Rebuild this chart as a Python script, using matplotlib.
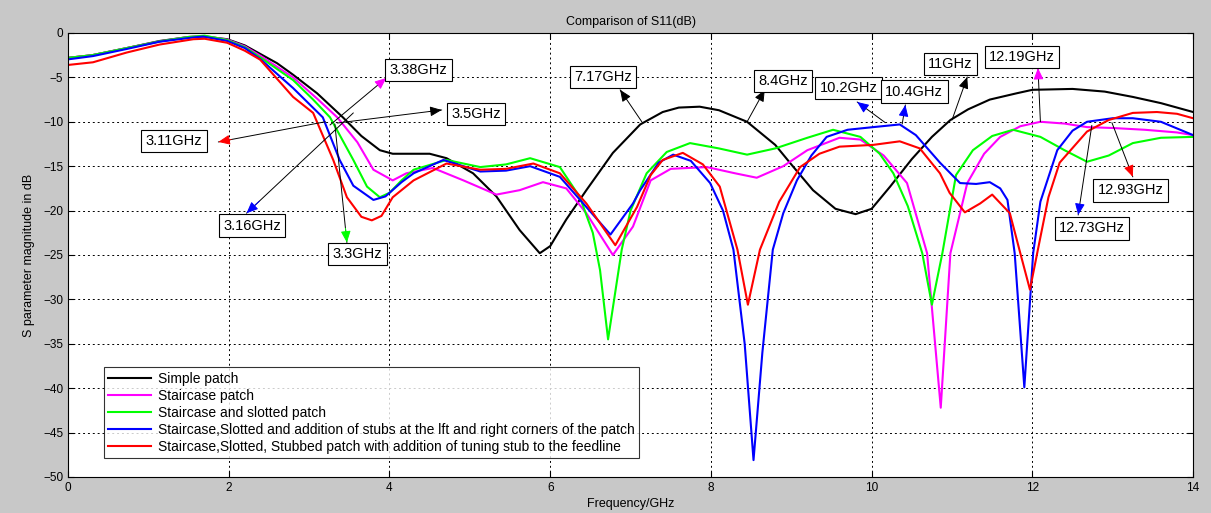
import matplotlib
matplotlib.use("Agg")
import matplotlib.pyplot as plt

plt.rcParams['font.family'] = ['Liberation Sans', 'DejaVu Sans']

# Simple patch
f_simple = [0, 0.3, 0.73, 1.14, 1.5, 1.7, 1.98, 2.2, 2.4, 2.6, 2.8, 3.1, 3.42, 3.65, 3.88,
            4.04, 4.5, 4.71, 5.04, 5.33, 5.62, 5.87, 6.0, 6.2, 6.45, 6.78, 7.12, 7.4, 7.6,
            7.86, 8.1, 8.45, 8.8, 9.0, 9.27, 9.55, 9.8, 10.0, 10.23, 10.5, 10.75, 10.98,
            11.2, 11.47, 11.8, 12.0, 12.5, 12.9, 13.25, 13.6, 14.0]
s_simple = [-2.8, -2.5, -1.7, -0.9, -0.45, -0.4, -0.7, -1.4, -2.4, -3.4, -4.7, -6.8, -9.5,
            -11.6, -13.2, -13.6, -13.6, -14.1, -15.8, -18.4, -22.2, -24.8, -24.0, -21.0,
            -17.7, -13.5, -10.3, -8.9, -8.4, -8.3, -8.7, -10.0, -12.6, -14.8, -17.7, -19.8,
            -20.4, -19.8, -17.3, -14.2, -11.7, -9.8, -8.6, -7.5, -6.8, -6.4, -6.3, -6.6,
            -7.2, -7.9, -8.9]

# Staircase patch
f_stair = [0, 0.3, 0.73, 1.14, 1.5, 1.7, 1.98, 2.2, 2.4, 2.8, 3.1, 3.35, 3.6, 3.8, 4.04,
           4.21, 4.54, 4.92, 5.33, 5.62, 5.91, 6.2, 6.45, 6.78, 7.03, 7.25, 7.5, 7.95, 8.3,
           8.57, 8.9, 9.2, 9.6, 9.86, 10.15, 10.44, 10.69, 10.86, 10.98, 11.19, 11.4,
           11.6, 11.85, 12.1, 12.4, 12.68, 13.0, 13.4, 13.8, 14.0]
s_stair = [-2.8, -2.5, -1.7, -0.95, -0.45, -0.35, -0.75, -1.5, -2.6, -5.0, -7.4, -9.5,
           -12.3, -15.4, -16.6, -15.8, -15.2, -16.6, -18.2, -17.7, -16.8, -17.5, -20.3,
           -25.0, -21.8, -16.6, -15.3, -15.1, -15.8, -16.3, -15.0, -13.2, -11.8, -12.0,
           -13.8, -16.9, -24.8, -42.2, -24.8, -16.9, -13.6, -11.7, -10.5, -10.0, -10.2,
           -10.6, -10.7, -10.9, -11.2, -11.5]

# Staircase and slotted patch
f_slot = [0, 0.3, 0.73, 1.14, 1.5, 1.7, 1.98, 2.2, 2.4, 2.8, 3.05, 3.26, 3.55, 3.72, 3.88,
          4.0, 4.15, 4.3, 4.71, 5.13, 5.45, 5.75, 6.12, 6.37, 6.53, 6.62, 6.72, 6.89, 7.0,
          7.2, 7.45, 7.74, 8.1, 8.45, 8.8, 9.2, 9.52, 9.86, 10.1, 10.27, 10.45, 10.63,
          10.75, 10.88, 11.05, 11.26, 11.5, 11.76, 12.1, 12.4, 12.68, 12.95, 13.25, 13.6,
          14.0]
s_slot = [-2.8, -2.5, -1.7, -0.95, -0.45, -0.3, -0.8, -1.6, -2.8, -5.3, -7.5, -9.5, -14.3,
          -17.3, -18.5, -18.0, -16.6, -15.4, -14.3, -15.1, -14.8, -14.1, -15.1, -18.5,
          -22.5, -26.7, -34.5, -24.4, -20.0, -15.8, -13.4, -12.4, -13.0, -13.7, -13.0,
          -11.8, -10.9, -11.7, -13.6, -15.8, -19.5, -24.8, -30.6, -24.8, -16.0, -13.2,
          -11.6, -10.9, -11.7, -13.2, -14.5, -13.8, -12.4, -11.8, -11.7]

# Staircase, slotted, stubs at corners
f_stub = [0, 0.31, 0.73, 1.14, 1.56, 1.68, 1.98, 2.2, 2.4, 2.8, 3.17, 3.38, 3.55, 3.8,
          3.95, 4.15, 4.3, 4.67, 5.13, 5.45, 5.75, 6.12, 6.45, 6.75, 7.03, 7.12, 7.35,
          7.53, 7.75, 7.99, 8.15, 8.28, 8.42, 8.53, 8.64, 8.77, 8.9, 9.07, 9.25, 9.44,
          9.7, 10.02, 10.35, 10.55, 10.85, 11.1, 11.3, 11.47, 11.6, 11.69, 11.78, 11.9,
          12.01, 12.1, 12.31, 12.5, 12.68, 13.0, 13.25, 13.6, 14.0]
s_stub = [-2.97, -2.6, -1.8, -0.98, -0.5, -0.4, -0.9, -1.7, -3.0, -6.2, -9.5, -14.3, -17.2,
          -18.8, -18.4, -16.8, -15.8, -14.3, -15.6, -15.5, -15.0, -16.2, -19.6, -22.7,
          -19.2, -17.7, -14.6, -13.7, -14.4, -16.9, -20.0, -24.4, -35.0, -48.1, -36.0,
          -24.4, -20.3, -16.6, -13.8, -11.7, -10.9, -10.6, -10.3, -11.5, -14.6, -16.9,
          -17.0, -16.8, -17.5, -18.8, -24.8, -39.9, -24.8, -19.0, -13.2, -11.0, -10.0,
          -9.6, -9.6, -10.0, -11.5]

# Staircase, slotted, stubbed + tuning stub
f_tune = [0, 0.31, 0.73, 1.14, 1.56, 1.7, 1.98, 2.2, 2.39, 2.8, 3.05, 3.3, 3.47, 3.65,
          3.78, 3.9, 4.04, 4.3, 4.71, 5.13, 5.45, 5.79, 6.12, 6.45, 6.81, 7.08, 7.25, 7.4,
          7.65, 7.9, 8.11, 8.33, 8.46, 8.61, 8.85, 9.11, 9.35, 9.6, 10.02, 10.35, 10.6,
          10.85, 10.97, 11.16, 11.35, 11.5, 11.72, 11.85, 11.97, 12.06, 12.2, 12.34, 12.68,
          12.95, 13.25, 13.55, 13.8, 14.0]
s_tune = [-3.6, -3.3, -2.2, -1.3, -0.7, -0.65, -1.1, -2.0, -3.0, -7.2, -9.0, -14.3, -18.5,
          -20.7, -21.1, -20.6, -18.5, -16.6, -14.7, -15.4, -15.3, -14.7, -15.8, -19.2,
          -23.9, -19.6, -16.0, -14.3, -13.5, -14.8, -17.3, -24.4, -30.6, -24.4, -19.0,
          -15.1, -13.6, -12.8, -12.6, -12.2, -13.0, -15.8, -18.0, -20.2, -19.2, -18.2,
          -20.3, -24.8, -28.9, -24.8, -18.5, -14.6, -11.1, -9.8, -9.0, -8.9, -9.1, -9.6]

series = [
    (f_simple, s_simple, 'k', 'Simple patch'),
    (f_stair, s_stair, '#ff00ff', 'Staircase patch'),
    (f_slot, s_slot, '#00ff00', 'Staircase and slotted patch'),
    (f_stub, s_stub, '#0000ff',
     'Staircase,Slotted and addition of stubs at the lft and right corners of the patch'),
    (f_tune, s_tune, '#ff0000',
     'Staircase,Slotted, Stubbed patch with addition of tuning stub to the feedline'),
]

# label, text centre, arrow head, arrow tail, head colour
notes = [
    ('3.38GHz', (4.36, -4.17), (3.96, -5.07), (3.26, -10.36), '#ff00ff'),
    ('3.5GHz', (5.08, -9.12), (4.65, -8.67), (3.35, -10.14), 'k'),
    ('3.11GHz', (1.32, -12.16), (1.87, -12.27), (3.2, -10.0), '#ff0000'),
    ('3.16GHz', (2.29, -21.7), (2.22, -20.3), (3.55, -9.0), '#0000ff'),
    ('3.3GHz', (3.6, -24.9), (3.47, -23.6), (3.32, -10.25), '#00ff00'),
    ('7.17GHz', (6.66, -4.95), (6.87, -6.4), (7.14, -10.0), 'k'),
    ('8.4GHz', (8.9, -5.4), (8.67, -6.4), (8.45, -10.0), 'k'),
    ('10.2GHz', (9.71, -6.2), (9.82, -7.77), (10.17, -10.1), '#0000ff'),
    ('10.4GHz', (10.53, -6.6), (10.42, -8.1), (10.38, -10.25), '#0000ff'),
    ('11GHz', (10.98, -3.5), (11.19, -4.95), (11.0, -9.8), 'k'),
    ('12.19GHz', (11.87, -2.7), (12.07, -3.94), (12.1, -10.0), '#ff00ff'),
    ('12.93GHz', (13.22, -17.7), (13.25, -16.2), (12.99, -10.1), '#ff0000'),
    ('12.73GHz', (12.74, -22.0), (12.57, -20.5), (12.74, -10.4), '#0000ff'),
]

fig = plt.figure(figsize=(12.11, 5.13), dpi=100, facecolor='#c8c8c8')
ax = fig.add_axes([0.0562, 0.0702, 0.9290, 0.8655])
ax.set_facecolor('white')

for f, s, c, lab in series:
    ax.plot(f, s, color=c, lw=1.5, label=lab)

for lab, tpos, head, tail, hc in notes:
    ax.annotate('', xy=head, xytext=tail,
                arrowprops=dict(arrowstyle='-', color='k', lw=0.7,
                                shrinkA=0, shrinkB=0))
    sx = head[0] + 0.12 * (tail[0] - head[0])
    sy = head[1] + 0.12 * (tail[1] - head[1])
    ax.annotate('', xy=head, xytext=(sx, sy),
                arrowprops=dict(arrowstyle='-|>,head_length=0.7,head_width=0.3',
                                color=hc, lw=0.7, shrinkA=0, shrinkB=0))
    ax.text(tpos[0], tpos[1], lab, ha='center', va='center', fontsize=10.5,
            bbox=dict(boxstyle='square,pad=0.3', fc='white', ec='k', lw=0.8))

ax.set_xlim(0, 14)
ax.set_ylim(-50, 0)
ax.set_xticks(range(0, 15, 2))
ax.set_yticks(range(-50, 1, 5))
ax.grid(True, color='k', linestyle=(0, (2, 3)), lw=0.7)
ax.tick_params(direction='in', top=True, right=True, labelsize=8.5, length=4)
for sp in ax.spines.values():
    sp.set_linewidth(0.8)

ax.set_title('Comparison of S11(dB)', fontsize=9, pad=6)
ax.set_xlabel('Frequency/GHz', fontsize=9, labelpad=3)
ax.set_ylabel('S parameter magnitude in dB', fontsize=9, labelpad=6)

leg = ax.legend(loc='lower left', bbox_to_anchor=(0.032, 0.043), fontsize=10,
                frameon=True, fancybox=False, edgecolor='k', borderaxespad=0,
                handlelength=3.1, labelspacing=0.22, borderpad=0.3, handletextpad=0.5)
leg.get_frame().set_linewidth(0.8)

fig.savefig('out.png', dpi=100, facecolor=fig.get_facecolor())
